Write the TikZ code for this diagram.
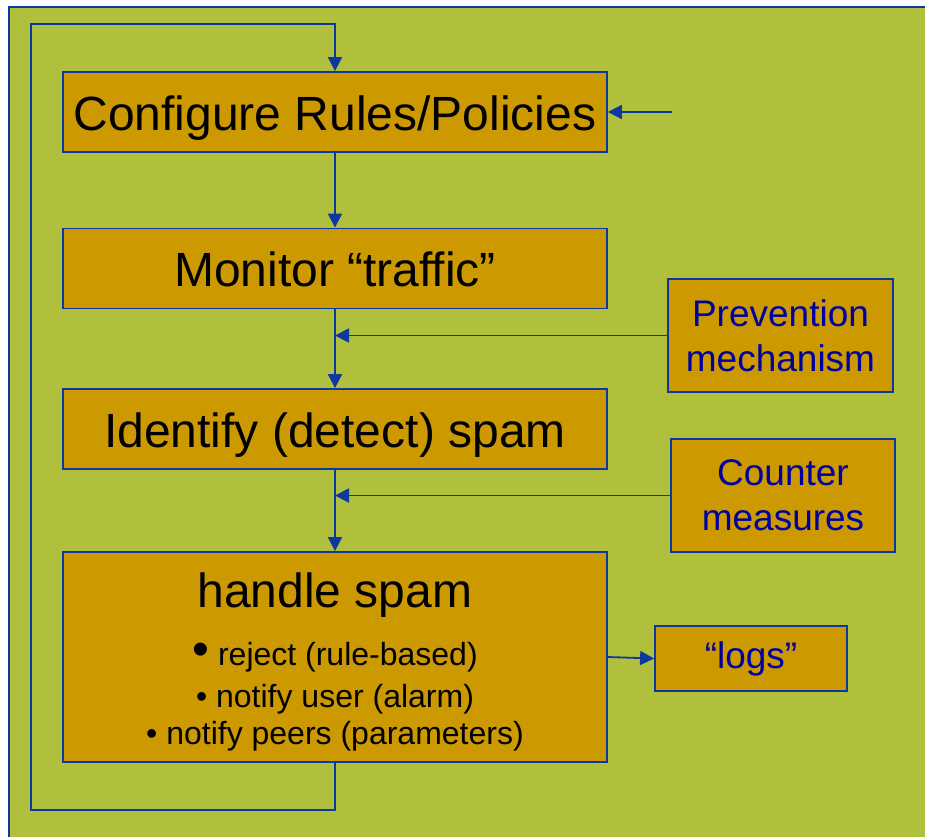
\documentclass[tikz,border=0pt]{standalone}
\usepackage{fontspec}
\setmainfont{Liberation Sans}
\usetikzlibrary{arrows.meta}

\definecolor{panelgreen}{RGB}{176,191,60}
\definecolor{boxfill}{RGB}{204,153,0}
\definecolor{linkblue}{RGB}{12,56,160}
\definecolor{labelblue}{RGB}{0,0,160}

\newcommand{\bigtxt}{\fontsize{48}{58}\selectfont}
\newcommand{\midtxt}{\fontsize{37}{45}\selectfont}
\newcommand{\smalltxt}{\fontsize{32}{38}\selectfont}

\begin{document}
\begin{tikzpicture}[x=1pt,y=-1pt,
  stage/.style={draw=linkblue,line width=1.8pt,fill=boxfill,inner sep=0pt,
    minimum width=544pt,minimum height=80pt,text height=36pt,text depth=0pt,
    font=\bigtxt},
  side/.style={draw=linkblue,line width=1.8pt,fill=boxfill,inner sep=0pt,
    align=center,text=labelblue,font=\midtxt},
  link/.style={draw=linkblue,line width=1.8pt},
  arr/.style={link,-{Triangle[length=14pt,width=14pt]}},
  caption/.style={anchor=base,inner sep=0pt}]

% page and panel
\useasboundingbox (0,0) rectangle (925,836);
\fill[white] (0,0) rectangle (925,836);
\begin{scope}
  \clip (0,0) rectangle (925,836);
  \draw[fill=panelgreen,draw=linkblue,line width=1.5pt] (9,7) rectangle (940,850);
\end{scope}

% main chain of stages
\node[stage] (cfg) at (335,112) {Configure Rules/Policies};
\node[stage] (mon) at (335,268.5) {Monitor “traffic”};
\node[stage] (idf) at (335,429) {Identify (detect) spam};
\node[stage,minimum height=210pt] (hs) at (335,657) {};

% contents of the handling stage
\node[caption,font=\bigtxt] (hstitle) at (335,607) {handle spam};
\node[caption,font=\smalltxt] (hsa) at (335,665)
  {{\bigtxt •}\hspace{9pt}reject (rule-based)};
\node[caption,font=\smalltxt] (hsb) at (335,707) {• notify user (alarm)};
\node[caption,font=\smalltxt] (hsc) at (335,744) {• notify peers (parameters)};

% side boxes
\node[side,minimum width=225pt,minimum height=113pt] (prev) at (780.5,335.5)
  {Prevention\\mechanism};
\node[side,minimum width=224pt,minimum height=113pt] (cnt) at (783,495.5)
  {Counter\\measures};
\node[side,minimum width=192pt,minimum height=65pt] (logs) at (751,658.5)
  {“logs”};

% flow between stages
\draw[arr] (cfg.south) -- (mon.north);
\draw[arr] (mon.south) -- (idf.north);
\draw[arr] (idf.south) -- (hs.north);

% side inputs into the flow
\draw[arr] (prev.west) -- (prev.west -| mon.south);
\draw[arr] (cnt.west) -- (cnt.west -| idf.south);
\draw[arr] (hs.east) -- (logs.west);

% external input to configuration
\coordinate (ext) at (672,112);
\draw[arr] (ext) -- (cfg.east);

% feedback loop back to configuration
\coordinate (loopbot) at (31,810);
\coordinate (looptop) at (31,24);
\draw[arr,line join=miter] (hs.south) |- (loopbot) -- (looptop) -| (cfg.north);
\end{tikzpicture}
\end{document}
